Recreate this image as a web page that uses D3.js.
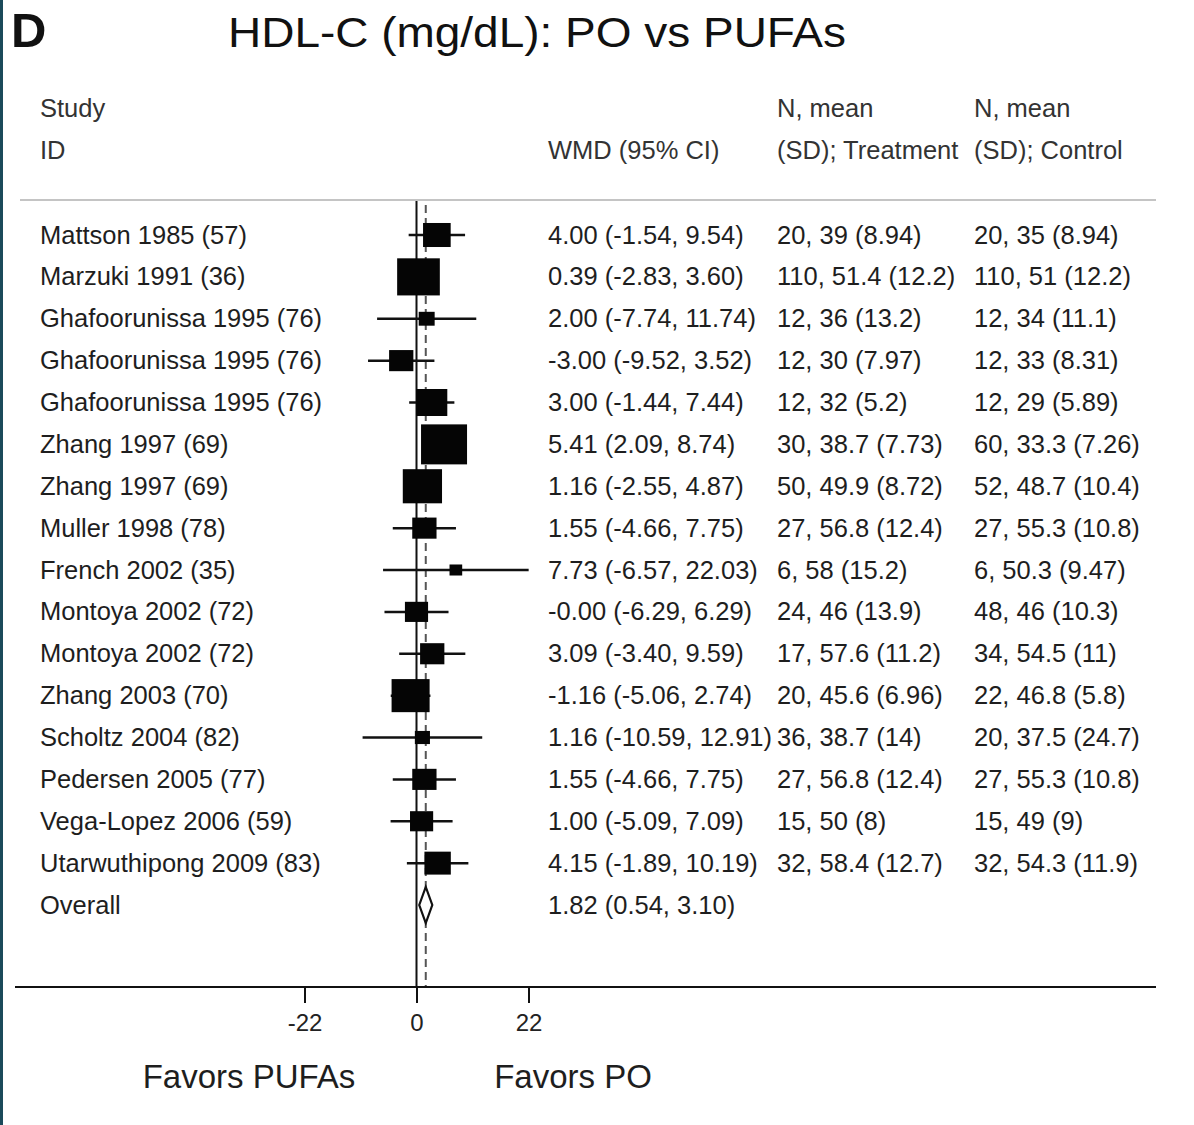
<!DOCTYPE html>
<html>
<head>
<meta charset="utf-8">
<script src="https://cdn.jsdelivr.net/npm/d3@7"></script>
<style>
  html, body { margin: 0; padding: 0; background: #fff; }
  svg { display: block; }
  text { font-family: "Liberation Sans", Arial, sans-serif; }
</style>
</head>
<body>
<div id="chart"></div>
<script>
// HDL-C forest plot: palm oil (PO) vs polyunsaturated fatty acids (PUFAs)
const studies = [
  "Mattson 1985 (57)", "Marzuki 1991 (36)", "Ghafoorunissa 1995 (76)",
  "Ghafoorunissa 1995 (76)", "Ghafoorunissa 1995 (76)", "Zhang 1997 (69)",
  "Zhang 1997 (69)", "Muller 1998 (78)", "French 2002 (35)",
  "Montoya 2002 (72)", "Montoya 2002 (72)", "Zhang 2003 (70)",
  "Scholtz 2004 (82)", "Pedersen 2005 (77)", "Vega-Lopez 2006 (59)",
  "Utarwuthipong 2009 (83)"
];
const wmd   = [4.00, 0.39, 2.00, -3.00, 3.00, 5.41, 1.16, 1.55, 7.73, -0.00, 3.09, -1.16, 1.16, 1.55, 1.00, 4.15];
const ciLow = [-1.54, -2.83, -7.74, -9.52, -1.44, 2.09, -2.55, -4.66, -6.57, -6.29, -3.40, -5.06, -10.59, -4.66, -5.09, -1.89];
const ciHigh = [9.54, 3.60, 11.74, 3.52, 7.44, 8.74, 4.87, 7.75, 22.03, 6.29, 9.59, 2.74, 12.91, 7.75, 7.09, 10.19];
const ciLabels = [
  "4.00 (-1.54, 9.54)", "0.39 (-2.83, 3.60)", "2.00 (-7.74, 11.74)",
  "-3.00 (-9.52, 3.52)", "3.00 (-1.44, 7.44)", "5.41 (2.09, 8.74)",
  "1.16 (-2.55, 4.87)", "1.55 (-4.66, 7.75)", "7.73 (-6.57, 22.03)",
  "-0.00 (-6.29, 6.29)", "3.09 (-3.40, 9.59)", "-1.16 (-5.06, 2.74)",
  "1.16 (-10.59, 12.91)", "1.55 (-4.66, 7.75)", "1.00 (-5.09, 7.09)",
  "4.15 (-1.89, 10.19)"
];
const treatment = [
  "20, 39 (8.94)", "110, 51.4 (12.2)", "12, 36 (13.2)", "12, 30 (7.97)",
  "12, 32 (5.2)", "30, 38.7 (7.73)", "50, 49.9 (8.72)", "27, 56.8 (12.4)",
  "6, 58 (15.2)", "24, 46 (13.9)", "17, 57.6 (11.2)", "20, 45.6 (6.96)",
  "36, 38.7 (14)", "27, 56.8 (12.4)", "15, 50 (8)", "32, 58.4 (12.7)"
];
const control = [
  "20, 35 (8.94)", "110, 51 (12.2)", "12, 34 (11.1)", "12, 33 (8.31)",
  "12, 29 (5.89)", "60, 33.3 (7.26)", "52, 48.7 (10.4)", "27, 55.3 (10.8)",
  "6, 50.3 (9.47)", "48, 46 (10.3)", "34, 54.5 (11)", "22, 46.8 (5.8)",
  "20, 37.5 (24.7)", "27, 55.3 (10.8)", "15, 49 (9)", "32, 54.3 (11.9)"
];
// study weights (%)
const weights = [5.7, 13.6, 1.9, 4.4, 7.2, 15.8, 11.5, 4.4, 1.2, 4.0, 4.4, 10.8, 1.7, 4.4, 4.0, 5.2];
const overall = { label: "Overall", est: 1.82, lo: 0.54, hi: 3.10, text: "1.82 (0.54, 3.10)" };
const axisTicks = [-22, 0, 22];

const W = 1194, H = 1125;
const svg = d3.select("#chart").append("svg").attr("width", W).attr("height", H);

// left edge band
svg.append("rect").attr("x", 0).attr("y", 0).attr("width", 3).attr("height", H).attr("fill", "#1b4a5a");

const x = d3.scaleLinear().domain([-22, 22]).range([304.5, 528.5]);
const rowKeys = d3.range(studies.length + 1);
const y = d3.scalePoint().domain(rowKeys).range([235, 905]);
const boxSide = d3.scaleSqrt().domain([0, 15.8]).range([0, 40]);

const textCol = "#1e1e1e";
const fs = 25.5;

// title
svg.append("text").attr("x", 11).attr("y", 47).attr("font-size", 49).attr("font-weight", "bold")
  .attr("fill", "#111").text("D");
svg.append("text").attr("x", 228).attr("y", 47).attr("font-size", 42).attr("fill", "#111")
  .attr("textLength", 618).attr("lengthAdjust", "spacingAndGlyphs")
  .text("HDL-C (mg/dL): PO vs PUFAs");

// column headers
const hdr = [
  [40, 117, "Study"], [40, 159, "ID"], [548, 159, "WMD (95% CI)"],
  [777, 117, "N, mean"], [777, 159, "(SD); Treatment"],
  [974, 117, "N, mean"], [974, 159, "(SD); Control"]
];
svg.append("g").selectAll("text").data(hdr).join("text")
  .attr("x", d => d[0]).attr("y", d => d[1]).attr("font-size", fs).attr("fill", "#333")
  .text(d => d[2]);

// header rule
svg.append("line").attr("x1", 20).attr("x2", 1156).attr("y1", 200).attr("y2", 200)
  .attr("stroke", "#c4c4c4").attr("stroke-width", 2);

// null line and overall-effect dashed line
svg.append("line").attr("x1", x(0)).attr("x2", x(0)).attr("y1", 201).attr("y2", 987)
  .attr("stroke", "#111").attr("stroke-width", 2);
svg.append("line").attr("x1", x(overall.est)).attr("x2", x(overall.est)).attr("y1", 205).attr("y2", 986)
  .attr("stroke", "#555").attr("stroke-width", 2).attr("stroke-dasharray", "8,5");

// confidence intervals
const rows = studies.map((s, i) => ({ s, i, est: wmd[i], lo: ciLow[i], hi: ciHigh[i], w: weights[i] }));
svg.append("g").selectAll("line").data(rows).join("line")
  .attr("x1", d => x(d.lo)).attr("x2", d => x(d.hi))
  .attr("y1", d => y(d.i)).attr("y2", d => y(d.i))
  .attr("stroke", "#111").attr("stroke-width", 2.5);

// weight boxes (rendered 1.15x wider than tall)
svg.append("g").selectAll("rect").data(rows).join("rect")
  .attr("x", d => x(d.est) - boxSide(d.w) * 1.15 / 2)
  .attr("y", d => y(d.i) - boxSide(d.w) / 2)
  .attr("width", d => boxSide(d.w) * 1.15)
  .attr("height", d => boxSide(d.w))
  .attr("fill", "#050505");

// overall diamond
const oy = y(studies.length);
svg.append("path")
  .attr("d", `M${x(overall.lo)},${oy} L${x(overall.est)},${oy - 18} L${x(overall.hi)},${oy} L${x(overall.est)},${oy + 18} Z`)
  .attr("fill", "#fff").attr("stroke", "#111").attr("stroke-width", 2.2);

// row text
const rowText = svg.append("g").attr("font-size", fs).attr("fill", textCol);
rowText.selectAll(".study").data(rows).join("text").attr("class", "study")
  .attr("x", 40).attr("y", d => y(d.i) + 8.5).text(d => d.s);
rowText.selectAll(".ci").data(rows).join("text").attr("class", "ci")
  .attr("x", 548).attr("y", d => y(d.i) + 8.5).text(d => ciLabels[d.i]);
rowText.selectAll(".trt").data(rows).join("text").attr("class", "trt")
  .attr("x", 777).attr("y", d => y(d.i) + 8.5).text(d => treatment[d.i]);
rowText.selectAll(".ctl").data(rows).join("text").attr("class", "ctl")
  .attr("x", 974).attr("y", d => y(d.i) + 8.5).text(d => control[d.i]);
rowText.append("text").attr("x", 40).attr("y", oy + 8.5).text(overall.label);
rowText.append("text").attr("x", 548).attr("y", oy + 8.5).text(overall.text);

// x axis
const axisG = svg.append("g").attr("transform", "translate(0,987)");
axisG.append("line").attr("x1", 15).attr("x2", 1156).attr("stroke", "#111").attr("stroke-width", 2);
axisG.call(d3.axisBottom(x).tickValues(axisTicks).tickSize(16).tickPadding(11).tickFormat(d => String(d)))
  .call(g => g.select(".domain").remove())
  .call(g => g.selectAll(".tick line").attr("stroke", "#111").attr("stroke-width", 2))
  .call(g => g.selectAll(".tick text").attr("font-size", 24).attr("fill", "#222")
    .attr("font-family", "Liberation Sans, Arial, sans-serif"));

// favour labels
svg.append("text").attr("x", 249).attr("y", 1088).attr("text-anchor", "middle")
  .attr("font-size", 33).attr("fill", "#1e1e1e").text("Favors PUFAs");
svg.append("text").attr("x", 573).attr("y", 1088).attr("text-anchor", "middle")
  .attr("font-size", 33).attr("fill", "#1e1e1e").text("Favors PO");
</script>
</body>
</html>
